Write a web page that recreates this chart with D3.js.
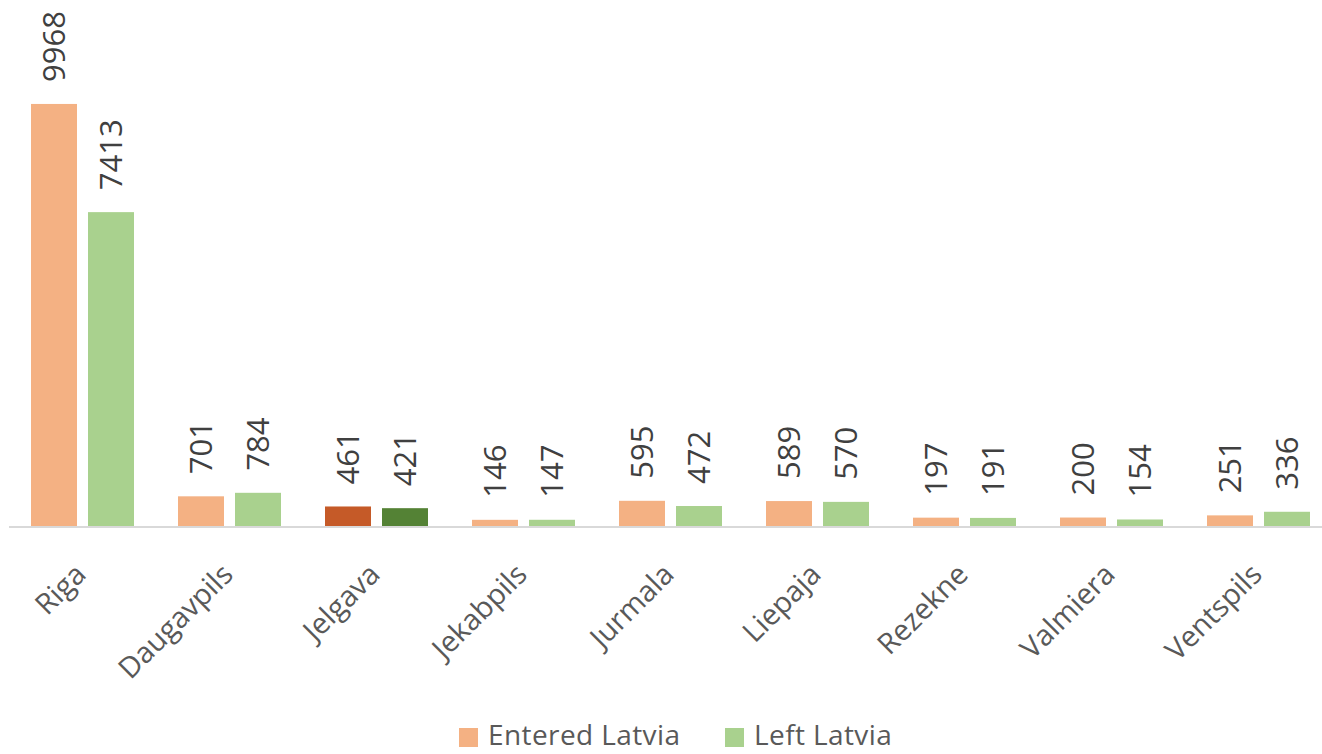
<!DOCTYPE html>
<html><head><meta charset="utf-8">
<script src="https://cdn.jsdelivr.net/npm/d3@7"></script>
<style>body{margin:0;background:#fff}svg{display:block}</style>
</head><body>
<svg id="c" width="1322" height="754"></svg>
<script>
const categories = ["Riga","Daugavpils","Jelgava","Jekabpils","Jurmala","Liepaja","Rezekne","Valmiera","Ventspils"];
const seriesNames = ["Entered Latvia","Left Latvia"];
const entered = [9968,701,461,146,595,589,197,200,251];
const left = [7413,784,421,147,472,570,191,154,336];
const highlight = "Jelgava";

const colors = {"Entered Latvia":"#F4B183","Left Latvia":"#A9D18E"};
const hiColors = {"Entered Latvia":"#C55A28","Left Latvia":"#548235"};
const font = "'Open Sans', sans-serif";

const svg = d3.select("#c");
const baseY = 526;
const x0 = d3.scaleBand().domain(categories).range([9, 1332]);
const x1 = d3.scaleBand().domain(seriesNames).range([0, x0.bandwidth()]).paddingInner(0.193).paddingOuter(0.386);
const y = d3.scaleLinear().domain([0, 10000]).range([baseY, baseY - 423.4]);

const rows = categories.map((c,i)=>({cat:c, vals:[{s:seriesNames[0], v:entered[i]},{s:seriesNames[1], v:left[i]}]}));

const g = svg.append("g");
const grp = g.selectAll("g.grp").data(rows).join("g").attr("transform", d=>`translate(${x0(d.cat)},0)`);
grp.selectAll("rect").data(d=>d.vals.map(v=>({...v, cat:d.cat}))).join("rect")
  .attr("x", d=>x1(d.s)).attr("width", x1.bandwidth())
  .attr("y", d=>y(d.v)).attr("height", d=>baseY - y(d.v))
  .attr("fill", d=> d.cat===highlight ? hiColors[d.s] : colors[d.s]);

grp.selectAll("text.val").data(d=>d.vals).join("text").attr("class","val")
  .attr("transform", d=>`translate(${x1(d.s)+x1.bandwidth()/2},${y(d.v)-22}) rotate(-90)`)
  .attr("dy","0.36em")
  .attr("font-family", font).attr("font-size", 31).attr("fill","#404040")
  .text(d=>d.v);

// x axis
const xAxis = d3.axisBottom(x0).tickSize(0).tickPadding(0);
const ax = svg.append("g").attr("transform", `translate(0,${baseY+1})`).call(xAxis);
ax.select(".domain").attr("stroke","#D9D9D9").attr("stroke-width",2).attr("d","M9,0H1322");
ax.selectAll(".tick text")
  .attr("font-family", font).attr("font-size", 29).attr("fill","#595959")
  .attr("text-anchor","end")
  .attr("transform","translate(-2,42) rotate(-45)")
  .attr("dy","0.35em").attr("y",0);

// legend
const leg = svg.append("g");
const legItems = [{s:seriesNames[0], x:459},{s:seriesNames[1], x:725}];
legItems.forEach(it=>{
  leg.append("rect").attr("x", it.x).attr("y", 728).attr("width",19).attr("height",19).attr("fill", colors[it.s]);
  leg.append("text").attr("x", it.x+29).attr("y", 745).attr("font-family", font).attr("font-size", 28)
    .attr("letter-spacing", 0.4).attr("fill","#595959").text(it.s);
});
</script>
</body></html>
